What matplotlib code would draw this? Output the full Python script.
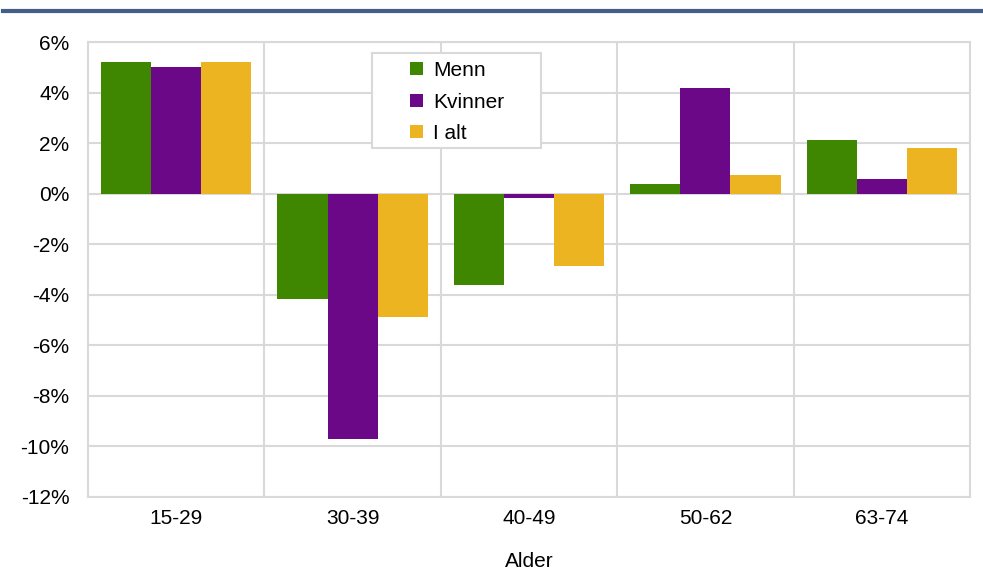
import numpy as np
import matplotlib.pyplot as plt
from matplotlib.lines import Line2D
from matplotlib.patches import Rectangle

plt.rcParams['font.family'] = ['Liberation Sans', 'DejaVu Sans']

# Data
ages = ['15-29', '30-39', '40-49', '50-62', '63-74']
menn = [5.2, -4.15, -3.62, 0.4, 2.13]
kvinner = [5.03, -9.72, -0.17, 4.2, 0.6]
i_alt = [5.2, -4.88, -2.88, 0.72, 1.79]

colors = ['#3f8700', '#6a0888', '#ecb421']
grid_col = '#d9d9d9'
W, H = 983, 580

fig = plt.figure(figsize=(9.83, 5.8), dpi=100)
ax = fig.add_axes([88 / W, 1 - 497 / H, (970 - 88) / W, (497 - 42) / H])

# Blue rule at the top (title is cut off in the source)
fig.add_artist(Line2D([3 / W, 1.0], [1 - 11 / H, 1 - 11 / H],
                      color='#445e8a', linewidth=3))

x = np.arange(len(ages))
w = 0.284
for i, (vals, lab) in enumerate(zip([menn, kvinner, i_alt], ['Menn', 'Kvinner', 'I alt'])):
    ax.bar(x + (i - 1) * w, vals, w, color=colors[i], label=lab, zorder=3)

ax.set_xlim(-0.5, len(ages) - 0.5)
ax.set_ylim(-12, 6)
ax.set_yticks(np.arange(-12, 7, 2))
ax.set_yticklabels([f'{v}%' for v in range(-12, 7, 2)])
ax.set_xticks(x)
ax.set_xticklabels(ages)

ax.set_xticks(np.arange(0.5, len(ages) - 0.5, 1), minor=True)
ax.grid(axis='y', color=grid_col, linewidth=1.5, zorder=0)
ax.grid(axis='x', which='minor', color=grid_col, linewidth=1.5, zorder=0)
ax.tick_params(axis='both', which='both', length=0, labelsize=15, colors='#000000')
ax.tick_params(axis='y', pad=13.5)
ax.tick_params(axis='x', pad=9)
for s in ax.spines.values():
    s.set_color(grid_col)
    s.set_linewidth(1.5)

ax.set_xlabel('Alder', fontsize=15, labelpad=17)

# legend box drawn by hand so it can be wider than its content
box = Rectangle((372 / W, 1 - 148 / H), (541 - 372) / W, (148 - 53) / H,
                transform=fig.transFigure, facecolor='white',
                edgecolor=grid_col, linewidth=1.5, zorder=4, clip_on=False)
ax.add_patch(box)
leg = ax.legend(loc='upper left', bbox_to_anchor=(410 / W, 1 - 61 / H),
                bbox_transform=fig.transFigure,
                fontsize=15, frameon=False, handlelength=0.6,
                handleheight=0.6, borderpad=0, labelspacing=0.6,
                borderaxespad=0, handletextpad=0.5)
leg.set_zorder(5)

plt.savefig('out.png', dpi=100)
